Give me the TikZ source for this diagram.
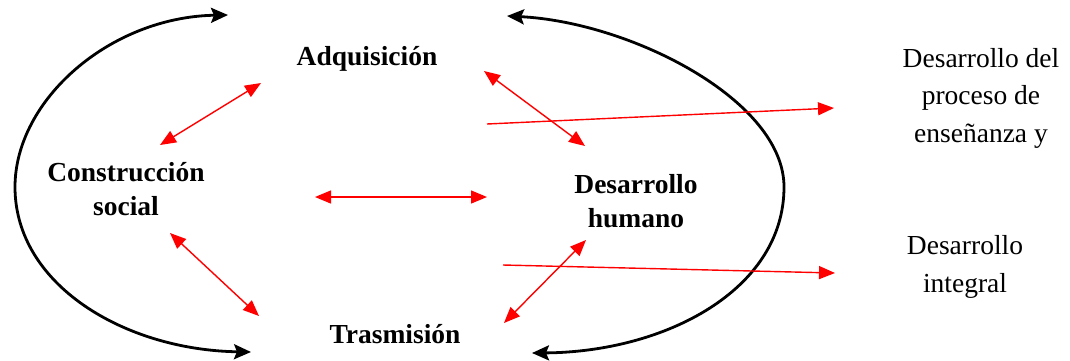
\documentclass[tikz,border=0pt]{standalone}
\usepackage{fontspec}
\setmainfont{Liberation Serif}
\usetikzlibrary{arrows.meta}
\begin{document}
\begin{tikzpicture}[x=1pt,y=-1pt,
  lbl/.style={font=\fontsize{27.5}{34}\selectfont\bfseries, align=center, inner sep=0pt},
  rlbl/.style={font=\fontsize{27.5}{37.5}\selectfont, align=center, inner sep=0pt},
  arc/.style={line width=2.8pt, {Stealth[length=17pt,width=15pt,inset=3pt]}-{Stealth[length=17pt,width=15pt,inset=3pt]}},
  redd/.style={red, line width=1.4pt, {Triangle[length=16pt,width=13pt]}-{Triangle[length=16pt,width=13pt]}},
  reds/.style={red, line width=1.4pt, -{Triangle[length=16pt,width=13pt]}}]
\useasboundingbox (0,0) rectangle (1070,360);
% labels
\node[lbl] (adq) at (367,59) {Adquisición};
\node[lbl] (cs) at (126,189) {Construcción\\social};
\node[lbl] (tra) at (395,334) {Trasmisión};
\node[lbl] (dh) at (636,201) {Desarrollo\\humano};
\node[rlbl] (dp) at (981,98) {Desarrollo del\\proceso de\\enseñanza y};
\node[rlbl] (di) at (965,267) {Desarrollo\\integral};
% black arcs
\coordinate (l1) at (228,15);
\coordinate (l2) at (251,352);
\coordinate (r1) at (507,16);
\coordinate (r2) at (532,353);
\draw[arc] (l1) .. controls (110,17) and (15,100) .. (15,187) .. controls (15,285) and (125,350) .. (l2);
\draw[arc] (r1) .. controls (630,22) and (784,100) .. (784,187) .. controls (784,290) and (665,352) .. (r2);
% red arrows
\coordinate (a1) at (160,145); \coordinate (a2) at (261,83);
\coordinate (b1) at (315,197); \coordinate (b2) at (487,197);
\coordinate (c1) at (170,233); \coordinate (c2) at (259,316);
\coordinate (d1) at (484,71); \coordinate (d2) at (585,146);
\coordinate (e1) at (504,323); \coordinate (e2) at (586,240);
\coordinate (f1) at (487,124); \coordinate (f2) at (834,108);
\coordinate (g1) at (503,265); \coordinate (g2) at (835,273);
\draw[redd] (a1) -- (a2);
\draw[redd] (b1) -- (b2);
\draw[redd] (c1) -- (c2);
\draw[redd] (d1) -- (d2);
\draw[redd] (e1) -- (e2);
\draw[reds] (f1) -- (f2);
\draw[reds] (g1) -- (g2);
\end{tikzpicture}
\end{document}
